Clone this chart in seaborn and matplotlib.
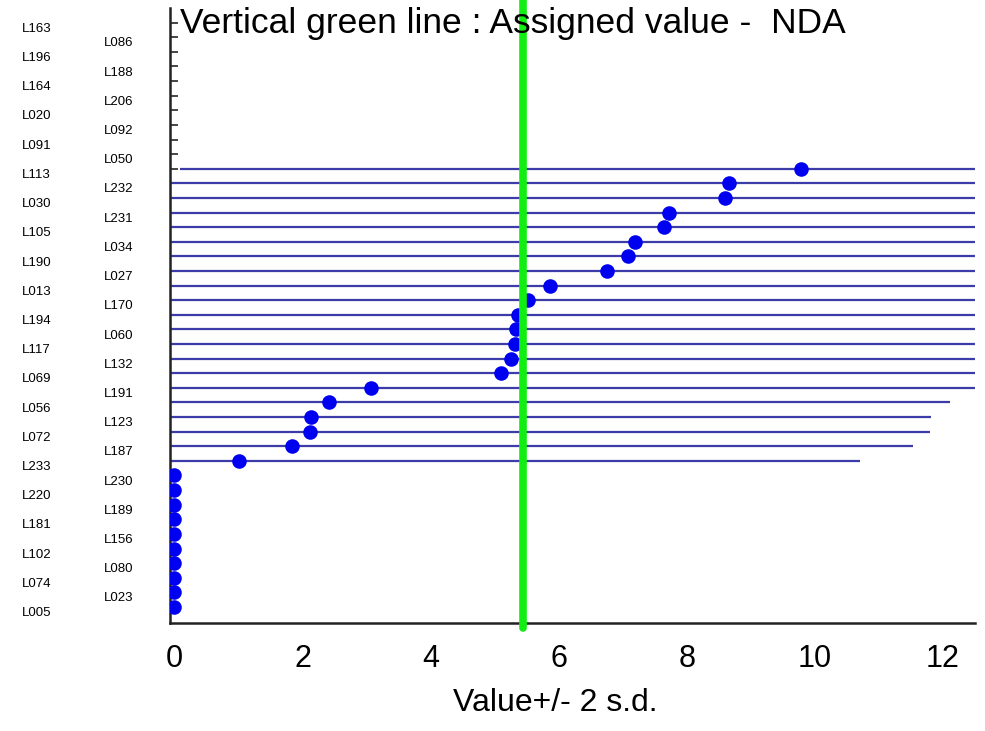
import matplotlib
matplotlib.use('Agg')
import matplotlib.pyplot as plt
import pandas as pd
import seaborn as sns
import numpy as np

# Lab codes, from bottom row to top row
labs = ['L005', 'L023', 'L074', 'L080', 'L102', 'L156', 'L181', 'L189', 'L220', 'L230',
        'L233', 'L187', 'L072', 'L123', 'L056', 'L191', 'L069', 'L132', 'L117', 'L060',
        'L194', 'L170', 'L013', 'L027', 'L190', 'L034', 'L105', 'L231', 'L030', 'L232',
        'L113', 'L050', 'L091', 'L092', 'L020', 'L206', 'L164', 'L188', 'L196', 'L086',
        'L163']
# reported values (NaN = not reported)
values = [0, 0, 0, 0, 0, 0, 0, 0, 0, 0,
          1.01, 1.84, 2.11, 2.13, 2.42, 3.07, 5.10, 5.26, 5.32, 5.33,
          5.37, 5.52, 5.86, 6.75, 7.08, 7.19, 7.65, 7.72, 8.60, 8.66,
          9.78, np.nan, np.nan, np.nan, np.nan, np.nan, np.nan, np.nan, np.nan, np.nan,
          np.nan]
# 2 s.d. half width
err = [0, 0, 0, 0, 0, 0, 0, 0, 0, 0,
       9.69, 9.69, 9.69, 9.69, 9.69, 9.69, 9.69, 9.69, 9.69, 9.69,
       9.69, 9.69, 9.69, 9.69, 9.69, 9.69, 9.69, 9.69, 9.69, 9.69,
       9.69, np.nan, np.nan, np.nan, np.nan, np.nan, np.nan, np.nan, np.nan, np.nan,
       np.nan]
assigned = 5.44

df = pd.DataFrame({'lab': labs, 'value': values, 'err': err})
df['row'] = np.arange(len(df))

sns.set_style('white')
plt.rcParams['font.family'] = ['Liberation Sans', 'DejaVu Sans']
plt.rcParams['text.color'] = 'black'
plt.rcParams['xtick.color'] = 'black'
plt.rcParams['axes.labelcolor'] = 'black'

fig = plt.figure(figsize=(9.85, 7.31), dpi=100)
ax = fig.add_axes([0.1726, 0.1477, 0.8172, 0.8413])

# +/- 2 s.d. lines
has_err = df[df['err'] > 0]
ax.hlines(has_err['row'], has_err['value'] - has_err['err'], has_err['value'] + has_err['err'],
          color='#3c3ca8', lw=1.6, zorder=2)

sns.scatterplot(data=df.dropna(), x='value', y='row', color='#0000f0', marker='o', s=110,
                edgecolor='#0000f0', linewidth=0, ax=ax, zorder=3)

ax.axvline(assigned, color='#11ee11', lw=5.5, ymin=-0.008, ymax=1.02, clip_on=False, zorder=4)

ax.set_xlim(-0.07, 12.5)
ax.set_ylim(-1.1, 41)
ax.set_xticks([0, 2, 4, 6, 8, 10, 12])
ax.set_yticks(df['row'])
ax.set_yticklabels([])
ax.tick_params(axis='x', direction='in', length=6, width=1.2, labelsize=22, pad=15)
ax.tick_params(axis='y', direction='in', length=6, width=1.2, left=True)
ax.set_xlabel('Value+/- 2 s.d.', fontsize=23)
ax.xaxis.set_label_coords(0.478, -0.106)
ax.set_ylabel('')
for s in ['top', 'right']:
    ax.spines[s].set_visible(False)
for s in ['left', 'bottom']:
    ax.spines[s].set_color('#222222')
    ax.spines[s].set_linewidth(1.8)

# lab codes in two staggered columns
for r, lab in zip(df['row'], df['lab']):
    xpos = -0.184 if r % 2 == 0 else -0.082
    ax.text(xpos, r - 0.42, lab, transform=ax.get_yaxis_transform(), fontsize=9.5,
            ha='left', va='center', clip_on=False)

fig.text(180 / 985, 1 - 33 / 731, 'Vertical green line : Assigned value -  NDA',
         fontsize=25.5, ha='left', va='baseline')

fig.savefig('out.png', dpi=100)
